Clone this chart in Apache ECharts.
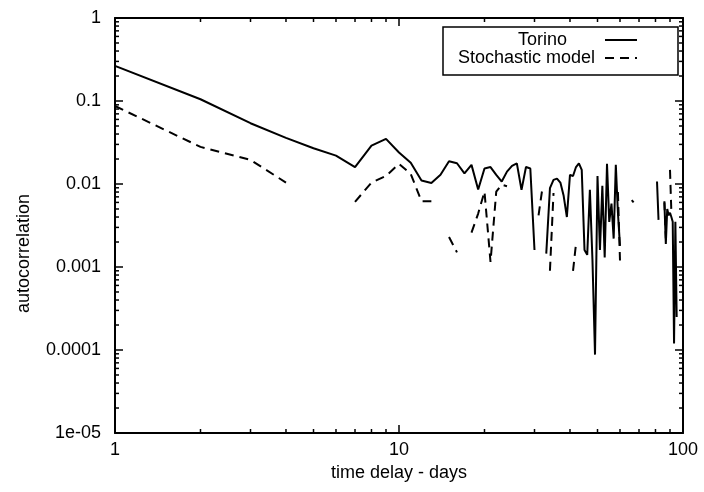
<!DOCTYPE html>
<html>
<head>
<meta charset="utf-8">
<script src="https://cdn.jsdelivr.net/npm/echarts@6/dist/echarts.min.js"></script>
<style>
  html, body { margin: 0; background: #fff; }
  #main { width: 704px; height: 492px; }
</style>
</head>
<body>
<div id="main"></div>
<script>
// time delay (days)
const days = [
  1, 2, 3, 4, 5, 6, 7, 8, 9, 10, 11, 12, 13, 14, 15, 16, 17, 18, 19, 20,
  21, 22, 23, 24, 25, 26, 27, 28, 29, 30, 31, 32, 33, 34, 35, 36, 37, 38, 39, 40,
  41, 42, 43, 44, 45, 46, 47, 48, 49, 50, 51, 52, 53, 54, 55, 56, 57, 58, 59, 60,
  61, 62, 63, 64, 65, 66, 67, 68, 69, 70, 71, 72, 73, 74, 75, 76, 77, 78, 79, 80,
  81, 82, 83, 84, 85, 86, 87, 88, 89, 90, 91, 92, 93, 94, 95
]
// autocorrelation, null where the value is not positive (gap on log axis)
const torino = [
  0.265, 0.105, 0.054, 0.036, 0.027, 0.022, 0.016, 0.029, 0.035, 0.024,
  0.018, 0.011, 0.0103, 0.0129, 0.0188, 0.0178, 0.0134, 0.017, 0.0086, 0.0154,
  0.016, 0.0129, 0.0107, 0.0141, 0.0165, 0.0177, 0.0085, 0.016, 0.0154, 0.0016,
  null, null, 0.00145, 0.0089, 0.0112, 0.0116, 0.0104, 0.0072, 0.004, 0.0129,
  0.0125, 0.016, 0.0177, 0.0148, 0.0016, 0.0014, 0.0085, 0.0012, 0.000088, 0.0125,
  0.0016, 0.0095, 0.0013, 0.0175, 0.0035, 0.0058, 0.0022, 0.017, 0.0045, 0.0018,
  null, null, null, null, null, null, null, null, null, null,
  null, null, null, null, null, null, null, null, null, null,
  0.0107, 0.0037, null, null, null, 0.006, 0.0019, 0.005, 0.0042, 0.0045,
  0.004, 0.0035, 0.00012, 0.0035, 0.00025
]
const stochastic = [
  0.087, 0.028, 0.0195, 0.0104, null, null, 0.0061, 0.0104, 0.0125, 0.0175,
  0.0132, 0.0062, 0.0062, null, 0.0023, 0.0015, null, 0.0026, 0.0044, 0.0081,
  0.00115, 0.0081, 0.0098, 0.0094, null, null, null, null, null, null,
  0.0042, 0.009, null, 0.0009, 0.0078, null, null, null, null, null,
  0.0009, 0.0019, null, null, null, null, null, null, null, null,
  null, null, null, null, null, null, null, null, 0.008, 0.0012,
  null, null, null, null, null, 0.0064, 0.006, null, null, null,
  null, null, null, null, null, null, null, null, null, null,
  null, null, null, null, null, 0.0062, 0.0022, null, null, 0.0148,
  0.0046, null, null, null, null
]
const yTickLabels = ['1e-05', '0.0001', '0.001', '0.01', '0.1', '1']
const legendNames = ['Torino', 'Stochastic model']

const font = 'Liberation Sans, Arial, Helvetica, sans-serif'
const toPairs = arr => arr.map((v, i) => [days[i], v == null ? '-' : v])

const myChart = echarts.init(document.getElementById('main'))

const axisCommon = {
  type: 'log',
  logBase: 10,
  axisLine: { lineStyle: { color: '#000', width: 2 } },
  axisTick: { inside: true, length: 8, lineStyle: { color: '#000', width: 1.5 } },
  splitLine: { show: false }
}

const option = {
  animation: false,
  backgroundColor: '#fff',
  grid: { left: 115, right: 21, top: 18, bottom: 59 },
  xAxis: [
    {
      ...axisCommon,
      min: 1,
      max: 100,
      position: 'bottom',
      name: 'time delay - days',
      nameLocation: 'middle',
      nameGap: 26,
      nameTextStyle: { fontFamily: font, fontSize: 18, color: '#000' },
      axisLabel: { fontFamily: font, fontSize: 18, color: '#000', margin: 8 }
    },
    {
      ...axisCommon,
      min: 1,
      max: 100,
      position: 'top',
      axisLabel: { show: false }
    }
  ],
  yAxis: [
    {
      ...axisCommon,
      min: 1e-5,
      max: 1,
      position: 'left',
      name: 'autocorrelation',
      nameLocation: 'middle',
      nameGap: 82,
      // gnuplot puts the label a bit below the middle of the axis
      nameTextStyle: { fontFamily: font, fontSize: 18, color: '#000', padding: [0, 56, 0, 0] },
      axisLabel: {
        fontFamily: font,
        fontSize: 18,
        color: '#000',
        margin: 14,
        formatter: v => yTickLabels[Math.round(Math.log10(v)) + 5]
      }
    },
    {
      ...axisCommon,
      min: 1e-5,
      max: 1,
      position: 'right',
      axisLabel: { show: false }
    }
  ],
  series: [
    {
      name: legendNames[0],
      type: 'line',
      data: toPairs(torino),
      showSymbol: false,
      symbol: 'none',
      lineStyle: { color: '#000', width: 2 }
    },
    {
      name: legendNames[1],
      type: 'line',
      data: toPairs(stochastic),
      showSymbol: false,
      symbol: 'none',
      lineStyle: { color: '#000', width: 2, type: [9, 6] }
    }
  ]
}
myChart.setOption(option)

// minor ticks at 2..9 of every decade, on all four sides, plus legend box
const graphics = []
const gx = v => myChart.convertToPixel({ xAxisIndex: 0 }, v)
const gy = v => myChart.convertToPixel({ yAxisIndex: 0 }, v)
const plotLeft = gx(1), plotRight = gx(100), plotTop = gy(1), plotBottom = gy(1e-5)
const minorStyle = { stroke: '#000', lineWidth: 1.5 }
for (let d = 1; d < 100; d *= 10) {
  for (let k = 2; k <= 9; k++) {
    const x = gx(d * k)
    graphics.push({ type: 'line', shape: { x1: x, y1: plotBottom, x2: x, y2: plotBottom - 4 }, style: minorStyle, silent: true })
    graphics.push({ type: 'line', shape: { x1: x, y1: plotTop, x2: x, y2: plotTop + 4 }, style: minorStyle, silent: true })
  }
}
for (let d = 1e-5; d < 0.5; d *= 10) {
  for (let k = 2; k <= 9; k++) {
    const y = gy(d * k)
    graphics.push({ type: 'line', shape: { x1: plotLeft, y1: y, x2: plotLeft + 4, y2: y }, style: minorStyle, silent: true })
    graphics.push({ type: 'line', shape: { x1: plotRight, y1: y, x2: plotRight - 4, y2: y }, style: minorStyle, silent: true })
  }
}

// legend (gnuplot style key: text right-justified, sample line on the right)
graphics.push({
  type: 'rect',
  shape: { x: 443, y: 27, width: 235, height: 48 },
  style: { fill: '#fff', stroke: '#000', lineWidth: 1.5 }
})
const keyRows = [
  { name: legendNames[0], textRight: 567, y: 40, dash: null },
  { name: legendNames[1], textRight: 595, y: 58, dash: [9, 6] }
]
keyRows.forEach(r => {
  graphics.push({
    type: 'text',
    style: {
      text: r.name, x: r.textRight, y: r.y,
      align: 'right', verticalAlign: 'middle',
      font: '18px ' + font, fill: '#000'
    }
  })
  graphics.push({
    type: 'line',
    shape: { x1: 605, y1: r.y, x2: 637, y2: r.y },
    style: { stroke: '#000', lineWidth: 2, lineDash: r.dash }
  })
})

myChart.setOption({ graphic: graphics })
</script>
</body>
</html>
